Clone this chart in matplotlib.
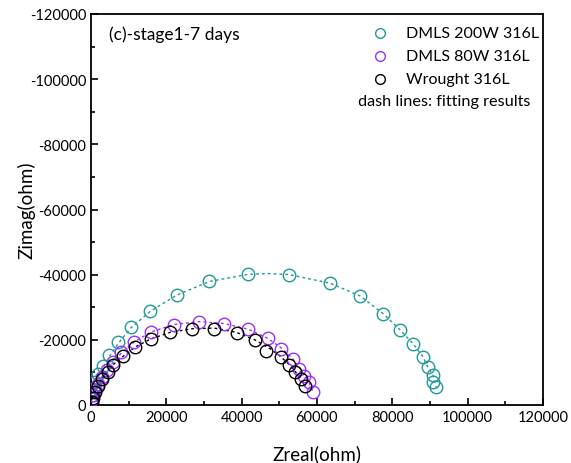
import matplotlib
matplotlib.use("Agg")
import matplotlib.pyplot as plt
from matplotlib.ticker import MultipleLocator

plt.rcParams['font.family'] = ['Lato', 'DejaVu Sans']
plt.rcParams['axes.unicode_minus'] = False

# ---- data ----
zre_200 = [80, 210, 400, 660, 1060, 1940, 3270, 4860, 7250, 10620, 15660, 22750, 31410,
           41600, 52490, 63450, 71420, 77610, 82040, 85570, 88070, 89390, 90720, 90880, 91600]
zim_200 = [-920, -1840, -3070, -4910, -7060, -9520, -12070, -15350, -19430, -24040, -28950,
           -33860, -37980, -40220, -40000, -37360, -33460, -27940, -23030, -18630, -14830,
           -11570, -9300, -7150, -5620]

zre_80 = [130, 350, 660, 1060, 1780, 2840, 4170, 5920, 7970, 11420, 15930, 22040, 28750,
          35310, 41760, 46910, 50450, 53710, 55300, 56630, 57960, 59020]
zim_80 = [-920, -1840, -3070, -4600, -6450, -8500, -10750, -13110, -16180, -19430, -22500,
          -24650, -25570, -24960, -23330, -20480, -17100, -14120, -11050, -9000, -7150, -4080]

zre_wr = [190, 610, 1060, 1780, 2840, 4430, 5920, 8580, 11680, 15930, 20970, 26820, 32660,
          38630, 43540, 46410, 50310, 52650, 54240, 55670, 56820]
zim_wr = [-830, -2240, -3900, -5740, -7980, -10220, -12370, -14950, -17900, -20260, -22320,
          -23330, -23270, -22010, -19960, -16420, -14830, -12280, -10220, -7890, -5930]

# fitting curves
fit_re_200 = [0, 200, 600, 1200, 2000, 3300, 4900, 7300, 10600, 15700, 22700, 31400, 41600,
              47000, 52500, 63400, 71400, 77600, 82000, 85600, 88100, 89400, 90700, 91200, 91700]
fit_im_200 = [0, -1800, -4000, -6300, -8800, -11700, -14900, -19000, -23700, -28700, -33700,
              -37900, -40100, -40350, -40050, -37400, -33500, -28000, -23100, -18700, -14900,
              -11700, -9200, -7300, -5400]

fit_re_80 = [0, 200, 600, 1100, 1800, 2900, 4200, 6000, 8000, 11400, 15900, 22000, 28700,
             35300, 41700, 46900, 50500, 53500, 55300, 56700, 57900, 59000]
fit_im_80 = [0, -1600, -3300, -4900, -6700, -8700, -10800, -13300, -15900, -19300, -22400,
             -24700, -25600, -25000, -23300, -20500, -17500, -14300, -11600, -9200, -6800, -3900]

fit_re_wr = [0, 200, 600, 1100, 1800, 2900, 4400, 5900, 8600, 11700, 15900, 21000, 26800,
             32700, 38600, 43500, 47500, 50300, 52700, 54300, 55700, 56900]
fit_im_wr = [0, -900, -2300, -3900, -5800, -8000, -10300, -12400, -15000, -17800, -20300,
             -22300, -23400, -23600, -22300, -20000, -17300, -14900, -12300, -10200, -7900, -5700]

labels = ['DMLS 200W 316L', 'DMLS 80W 316L', 'Wrought 316L']
colors = ['#1f9a98', '#9b30ff', '#000000']

fig = plt.figure(figsize=(5.71, 4.64), dpi=100)
ax = fig.add_axes([91/571, 1-406/464, (543-91)/571, (406-15)/464])

series = [(zre_200, zim_200, fit_re_200, fit_im_200),
          (zre_80, zim_80, fit_re_80, fit_im_80),
          (zre_wr, zim_wr, fit_re_wr, fit_im_wr)]
for (xr, yi, fx, fy), c in zip(series, colors):
    ax.plot(fx, fy, linestyle=(0, (2, 2.2)), color=c, lw=1.0, zorder=2)
    ax.plot(xr, yi, linestyle='none', marker='o', ms=9, mfc='none', mec=c, mew=1.0, zorder=3)

ax.set_xlim(0, 120000)
ax.set_ylim(0, -120000)
ax.xaxis.set_major_locator(MultipleLocator(20000))
ax.xaxis.set_minor_locator(MultipleLocator(10000))
ax.yaxis.set_major_locator(MultipleLocator(20000))
ax.yaxis.set_minor_locator(MultipleLocator(10000))
ax.tick_params(which='both', direction='in', top=False, right=False, labelsize=10.5)
ax.tick_params(which='major', length=5, width=1.2)
ax.tick_params(which='minor', length=3, width=1.2)
for s in ax.spines.values():
    s.set_linewidth(1.3)

ax.set_xlabel('Zreal(ohm)', fontsize=13.5, labelpad=15)
ax.set_ylabel('Zimag(ohm)', fontsize=13.5, labelpad=-4)

ax.text(0.04, 0.972, '(c)-stage1-7 days', transform=ax.transAxes, fontsize=12.5,
        va='top', ha='left')

# legend (drawn in axes coordinates)
row_y = [0.951, 0.893, 0.834]
for lab, c, yy in zip(labels, colors, row_y):
    ax.plot([0.639], [yy], transform=ax.transAxes, linestyle='none', marker='o', ms=7,
            mfc='none', mec=c, mew=1.0, clip_on=False)
    ax.text(0.697, yy, lab, transform=ax.transAxes, fontsize=11.5, ha='left', va='center')
ax.text(0.971, 0.777, 'dash lines: fitting results', transform=ax.transAxes,
        fontsize=11.7, ha='right', va='center')

fig.savefig('out.png', dpi=100)
